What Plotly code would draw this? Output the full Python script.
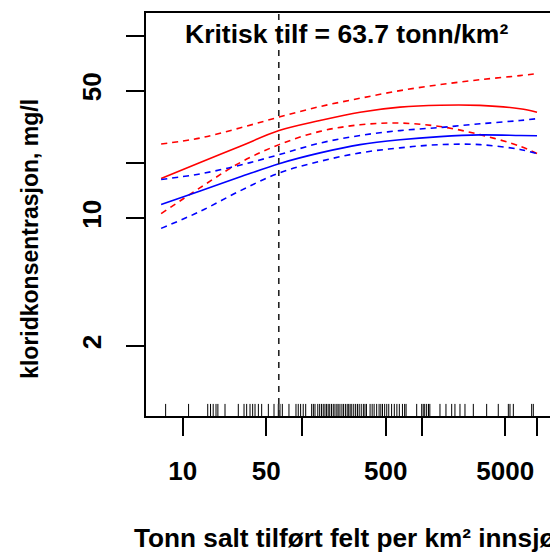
import plotly.graph_objects as go

# ---- data ----
x_grid = [6.6, 14, 30, 64, 141, 305, 658, 1423, 3075, 6645, 9225]

red_fit = [16.5, 20.2, 24.7, 30.2, 34.3, 38.1, 40.6, 41.6, 41.5, 39.8, 38.1]
red_upper = [25.5, 27.5, 31.2, 35.8, 40.9, 45.4, 50.0, 53.9, 57.4, 60.4, 61.9]
red_lower = [10.6, 14.7, 20.1, 25.3, 29.9, 32.5, 33.2, 31.8, 28.7, 24.8, 22.6]

blue_fit = [11.9, 14.1, 16.8, 19.9, 22.8, 25.3, 26.9, 28.0, 28.6, 28.4, 28.3]
blue_upper = [16.3, 17.5, 19.5, 22.3, 25.8, 28.4, 30.2, 31.4, 32.9, 34.3, 35.1]
blue_lower = [8.8, 10.9, 14.1, 17.7, 20.5, 22.8, 24.3, 25.3, 25.3, 23.8, 22.6]

rug_x = [7.2, 11.2, 16.2, 17.1, 18.0, 19.0, 19.7, 22.6, 29.2, 32.6, 34.3, 36.6,
         38.5, 40.3, 43.0, 45.8, 52.1, 58.1, 63.1, 65.2, 68.2, 77.5, 88.7, 92.7,
         97.0, 102, 107, 120, 124, 128, 135, 140, 145, 150, 155, 160, 165, 170,
         176, 182, 188, 195, 200, 207, 215, 222, 230, 238, 245, 252, 260, 270,
         280, 290, 300, 312, 325, 335, 345, 370, 385, 400, 420, 440, 455, 470,
         490, 510, 530, 560, 590, 620, 650, 690, 720, 740, 908, 1000, 1030, 1060,
         1100, 1140, 1170, 1422, 1596, 1782, 1898, 2091, 2302, 2704, 3497, 4373,
         5308, 5480, 5846, 8323, 8590]

critical = 63.7

x_tickvals = [10, 50, 100, 500, 1000, 5000, 9200]
x_ticktext = ["10", "50", "", "500", "", "5000", ""]
y_tickvals = [2, 10, 20, 50, 100]
y_ticktext = ["2", "10", "", "50", ""]

FONT = "Liberation Sans, Arial, sans-serif"
DASH = "6px,5px"

fig = go.Figure()

def add_line(y, color, dash=None):
    line = dict(color=color, width=1.6)
    if dash:
        line["dash"] = dash
    fig.add_trace(go.Scatter(x=x_grid, y=y, mode="lines", line_shape="spline",
                             line=line, showlegend=False, hoverinfo="skip"))

add_line(red_upper, "#ff0000", DASH)
add_line(red_lower, "#ff0000", DASH)
add_line(red_fit, "#ff0000")
add_line(blue_upper, "#0000ff", DASH)
add_line(blue_lower, "#0000ff", DASH)
add_line(blue_fit, "#0000ff")

# rug
rx, ry = [], []
for v in rug_x:
    rx += [v, v, None]
    ry += [0, 0.03, None]
fig.add_trace(go.Scatter(x=rx, y=ry, yaxis="y2", mode="lines",
                         line=dict(color="black", width=1),
                         showlegend=False, hoverinfo="skip"))

# critical vertical line
fig.add_trace(go.Scatter(x=[critical, critical], y=[0, 1], yaxis="y2", mode="lines",
                         line=dict(color="#222222", width=1.6, dash="6px,6px"),
                         showlegend=False, hoverinfo="skip"))

fig.update_layout(
    width=550, height=546,
    margin=dict(l=138, r=7, t=3, b=138),
    plot_bgcolor="white", paper_bgcolor="white",
    font=dict(family=FONT, color="black"),
    xaxis=dict(type="log", range=[0.693, 4.082], tickvals=x_tickvals, ticktext=x_ticktext,
               ticks="outside", ticklen=18, tickwidth=1.5, tickcolor="black",
               showline=True, mirror=True, linecolor="black", linewidth=1.5,
               showgrid=False, zeroline=False,
               tickfont=dict(family=FONT, size=26, color="black", weight="bold"),
               ticklabelstandoff=13),
    yaxis=dict(type="log", range=[-0.083, 2.124], tickvals=y_tickvals, ticktext=y_ticktext,
               ticks="outside", ticklen=18, tickwidth=1.5, tickcolor="black",
               showline=True, mirror=True, linecolor="black", linewidth=1.5,
               showgrid=False, zeroline=False, tickangle=-90,
               tickfont=dict(family=FONT, size=26, color="black", weight="bold"),
               ticklabelstandoff=15),
    yaxis2=dict(overlaying="y", range=[0, 1], visible=False),
    annotations=[
        dict(text="Kritisk tilf = 63.7 tonn/km²", xref="paper", yref="paper",
             x=0.495, y=0.947, xanchor="center", yanchor="middle", showarrow=False,
             font=dict(family=FONT, size=26.5, color="black", weight="bold")),
        dict(text="Tonn salt tilført felt per km² innsjø", xref="paper", yref="paper",
             x=0.49, y=-0.303, xanchor="center", yanchor="middle", showarrow=False,
             font=dict(family=FONT, size=26.2, color="black", weight="bold")),
        dict(text="kloridkonsentrasjon, mg/l", xref="paper", yref="paper",
             x=-0.286, y=0.44, xanchor="center", yanchor="middle", showarrow=False,
             textangle=-90,
             font=dict(family=FONT, size=23, color="black", weight="bold")),
    ],
)

fig.write_html("out.html")
